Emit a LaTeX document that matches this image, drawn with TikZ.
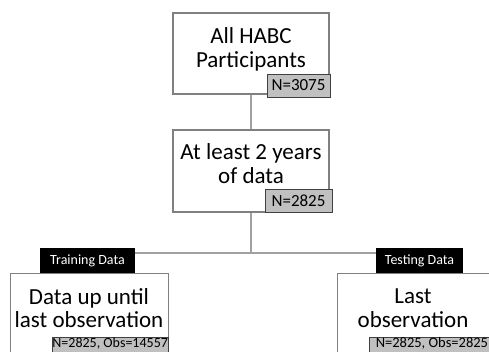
\documentclass[tikz,border=0pt]{standalone}
\usepackage{fontspec}
\setmainfont{Carlito}
\definecolor{boxborder}{RGB}{128,128,128}
\definecolor{linegray}{RGB}{160,160,160}
\definecolor{tagfill}{RGB}{192,192,192}
\definecolor{tagborder}{RGB}{64,64,64}
\begin{document}
\begin{tikzpicture}[x=1pt,y=-1pt,
  mainbox/.style={draw=boxborder,line width=1.1pt,fill=white,rectangle,inner sep=0pt},
  bigtext/.style={anchor=base,inner sep=0pt,font=\fontsize{23}{24}\selectfont},
  ntag/.style={draw=tagborder,line width=0.8pt,fill=tagfill,rectangle,inner sep=0pt},
  hdr/.style={fill=black,text=white,rectangle,inner sep=0pt,font=\fontsize{14}{16}\selectfont},
  conn/.style={draw=linegray,line width=1.8pt}]
\useasboundingbox (0,0) rectangle (489,351);
\coordinate (junc) at (251,253);
% boxes
\node[mainbox,minimum width=156pt,minimum height=81pt] (top) at (251,53.5) {};
\node[mainbox,minimum width=156pt,minimum height=82pt] (mid) at (251,171) {};
\node[hdr,minimum width=95pt,minimum height=25pt] (train) at (87.5,260.5) {Training Data};
\node[hdr,minimum width=87pt,minimum height=25pt] (test) at (419.5,260.5) {Testing Data};
% connectors
\draw[conn] (top.south) -- (mid.north);
\draw[conn] (mid.south) -- (junc);
\draw[conn] (train.east |- junc) -- (test.west |- junc);
\node[mainbox,minimum width=158pt,minimum height=90pt,anchor=north west] (left) at (10,273) {};
\node[mainbox,minimum width=158pt,minimum height=90pt,anchor=north west] (right) at (337,273) {};
% texts
\node[bigtext] (t1a) at (251,43) {All HABC};
\node[bigtext] (t1b) at (251,67) {Participants};
\node[bigtext] (t2a) at (251,159) {At least 2 years};
\node[bigtext] (t2b) at (251,183) {of data};
\node[bigtext] (t3a) at (89,304) {Data up until};
\node[bigtext] (t3b) at (89,327) {last observation};
\node[bigtext] (t4a) at (413,303) {Last};
\node[bigtext] (t4b) at (413,327) {observation};
% tags
\node[ntag,minimum width=63pt,minimum height=23pt,font=\fontsize{17}{19}\selectfont] (n1) at (298.5,85.5) {N=3075};
\node[ntag,minimum width=67pt,minimum height=23pt,font=\fontsize{17}{19}\selectfont] (n2) at (298.5,200.5) {N=2825};
\node[ntag,minimum width=115pt,anchor=north west,font=\fontsize{14}{16}\selectfont,text depth=12pt,text height=10pt] (n3) at (52,337) {N=2825, Obs=14557};
\node[ntag,minimum width=125pt,anchor=north west,align=left,inner xsep=3pt,font=\fontsize{14.5}{16}\selectfont,text depth=12pt,text height=10pt] (n4) at (369,337) {N=2825, Obs=2825};
\end{tikzpicture}
\end{document}
